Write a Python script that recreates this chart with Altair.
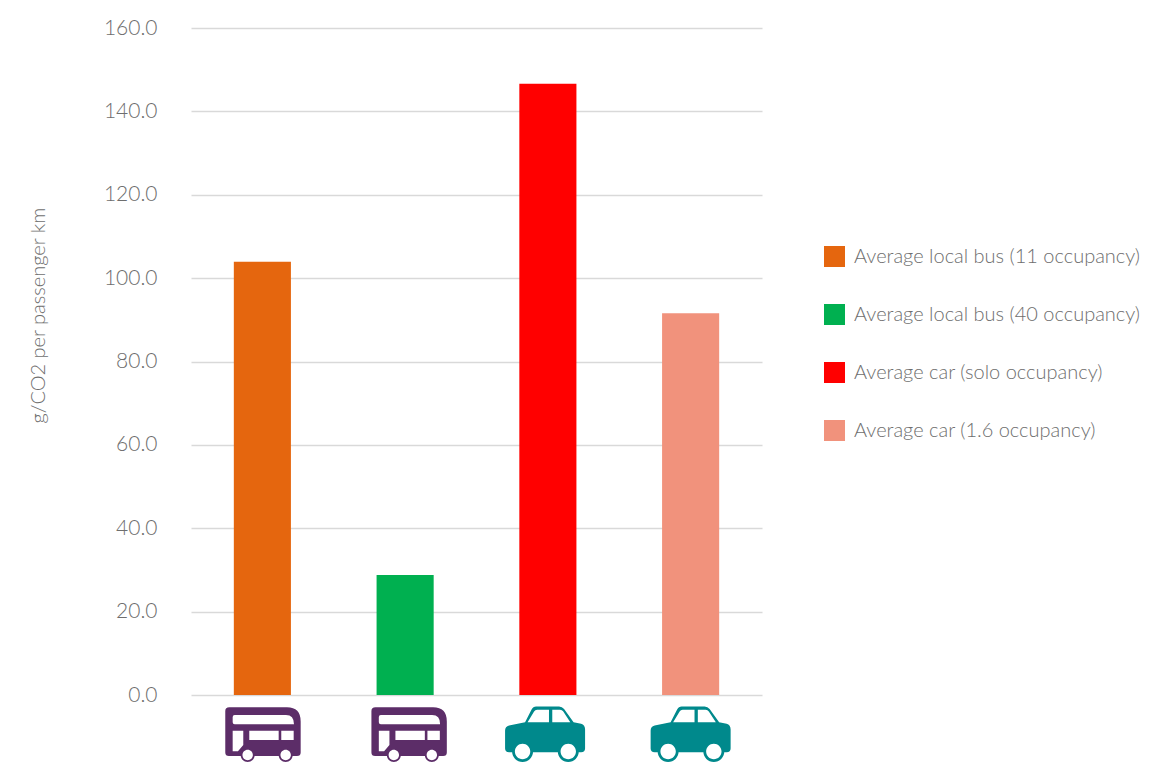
import altair as alt
import pandas as pd

# Emissions per passenger km by mode of transport
categories = [
    "Average local bus (11 occupancy)",
    "Average local bus (40 occupancy)",
    "Average car (solo occupancy)",
    "Average car (1.6 occupancy)",
]
values = [103.9, 28.8, 146.6, 91.6]
bar_colors = ["#E5660E", "#00B050", "#FF0000", "#F1927C"]
tick_values = [0, 20, 40, 60, 80, 100, 120, 140, 160]
icon_shift = [0.6, 4, -2.8, 0]

FONT = "Lato"
TEXT = "#6e6e6e"
PURPLE = "#5C2D68"
TEAL = "#00898C"


def circle(cx, cy, r):
    return f"M{cx - r},{cy}A{r},{r} 0 1 1 {cx + r},{cy}A{r},{r} 0 1 1 {cx - r},{cy}Z"


# Icon outlines in pixel units around the icon's centre (symbol size 4 draws them 1:1)
BUS_BODY = (
    "M-33.7,-27.2L24,-27.2Q37.7,-27.2 37.7,-13L37.7,18Q37.7,21.5 34,21.5"
    "L-34,21.5Q-37.7,21.5 -37.7,18L-37.7,-23.5Q-37.7,-27.2 -33.7,-27.2Z"
    + circle(-15.3, 20.5, 7) + circle(22.7, 20.5, 7)
)
BUS_HOLES = (
    "M-28.3,-19.5L23,-19.5Q31,-19.5 31,-10.2L-28.3,-10.2Q-30.3,-10.2 -30.3,-12.2L-30.3,-17.5Q-30.3,-19.5 -28.3,-19.5Z"
    "M-13.7,-3.8L15.7,-3.8L15.7,5.5L-13.7,5.5Z"
    "M18.3,-3.8L30.7,-3.8L30.7,5.5L18.3,5.5Z"
    "M-30.3,-3.8L-19.7,-3.8L-19.7,10.5L-25,16.8L-30.3,16.8Z"
    + circle(-15.3, 20.5, 5.2) + circle(22.7, 20.5, 5.2)
)
CAR_BODY = (
    "M-36,-9L-20,-12.3L-13.5,-25Q-12,-28 -9,-28L14,-28Q17,-28 19,-25.5L28.5,-12.3L36,-10.7Q40,-9.5 40,-5"
    "L40,14Q40,17.7 36,17.7L-36,17.7Q-40,17.7 -40,14L-40,-4Q-40,-8 -36,-9Z"
    + circle(-22.5, 17, 10.5) + circle(23.2, 17, 10.5)
)
CAR_HOLES = (
    "M-17.5,-12.3L-11,-23Q-10,-24.7 -8,-24.7L3.9,-24.7L3.9,-12.3Z"
    "M7.2,-24.7L15,-24.7Q17,-24.7 18.2,-23L25.2,-12.3L7.2,-12.3Z"
    + circle(-22.5, 17, 7.7) + circle(23.2, 17, 7.7)
)
icons = [(BUS_BODY, BUS_HOLES), (BUS_BODY, BUS_HOLES), (CAR_BODY, CAR_HOLES), (CAR_BODY, CAR_HOLES)]
icon_colors = [PURPLE, PURPLE, TEAL, TEAL]

df = pd.DataFrame({"mode": categories, "value": values})

x = alt.X(
    "mode:N",
    sort=categories,
    title=None,
    axis=None,
    scale=alt.Scale(domain=categories, paddingInner=0.6, paddingOuter=0.3),
)

bars = (
    alt.Chart(df)
    .mark_bar(cornerRadius=0)
    .encode(
        x=x,
        y=alt.Y(
            "value:Q",
            scale=alt.Scale(domain=[0, 160], nice=False),
            axis=alt.Axis(
                values=tick_values,
                format=".1f",
                title="g/CO2 per passenger km",
                titleFont=FONT,
                titleFontSize=20,
                titleFontWeight=300,
                titleColor=TEXT,
                titleAngle=270,
                titleX=-153,
                titleY=287,
                titleAlign="center",
                titleBaseline="middle",
                labelFont=FONT,
                labelFontSize=21,
                labelFontWeight=300,
                labelColor=TEXT,
                labelPadding=34,
                domain=False,
                ticks=False,
                grid=True,
                gridColor="#d9d9d9",
                gridWidth=1.5,
            ),
        ),
        color=alt.Color(
            "mode:N",
            sort=categories,
            scale=alt.Scale(domain=categories, range=bar_colors),
            legend=alt.Legend(
                title=None,
                orient="none",
                legendX=633,
                legendY=218,
                symbolType="square",
                symbolSize=441,
                symbolStrokeWidth=0,
                symbolOpacity=1,
                labelFont=FONT,
                labelFontSize=20,
                labelFontWeight=300,
                labelColor=TEXT,
                labelOffset=9,
                labelLimit=340,
                rowPadding=37,
            ),
        ),
    )
)

# Vehicle pictograms below the axis, one under each bar
layers = [bars]
for cat, (body, holes), shift, color in zip(categories, icons, icon_shift, icon_colors):
    row = df[df["mode"] == cat]
    for path, fill in ((body, color), (holes, "white")):
        layers.append(
            alt.Chart(row)
            .mark_point(shape=path, filled=True, fill=fill, opacity=1, size=4, strokeWidth=0, xOffset=shift)
            .encode(x=x, y=alt.value(706.5))
        )

chart = (
    alt.layer(*layers)
    .properties(
        width=571,
        height=667,
        padding={"left": 191, "top": 28, "right": 395, "bottom": 68},
        autosize=alt.AutoSizeParams(type="none"),
        background="white",
    )
    .configure_view(stroke=None)
)

chart.save("out.html", embed_options={"renderer": "svg", "actions": False})
